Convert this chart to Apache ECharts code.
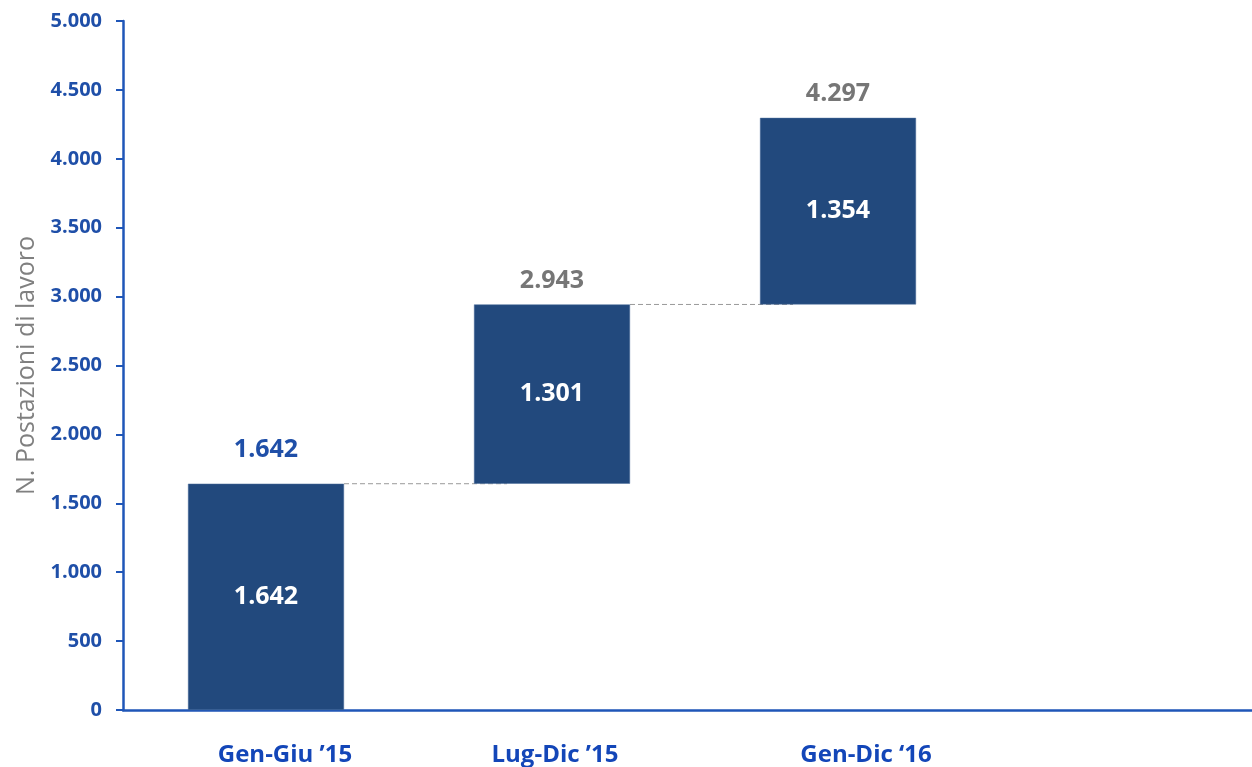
<!DOCTYPE html>
<html>
<head>
<meta charset="utf-8">
<script src="https://cdn.jsdelivr.net/npm/echarts@6/dist/echarts.min.js"></script>
<style>html,body{margin:0;padding:0;background:#fff;overflow:hidden}#c{width:1252px;height:767px}</style>
</head>
<body>
<div id="c"></div>
<script>
const categories = ['Gen-Giu ’15', 'Lug-Dic ’15', 'Gen-Dic ‘16', ''];
const baseValues = [0, 1642, 2943];
const deltaValues = [1642, 1301, 1354];
const totals = [1642, 2943, 4297];
const yTicks = [0, 500, 1000, 1500, 2000, 2500, 3000, 3500, 4000, 4500, 5000];

const fmt = v => {
  const s = String(Math.round(v));
  return s.replace(/\B(?=(\d{3})+(?!\d))/g, '.');
};
const axisBlue = '#1F56B8';
const labelBlue = '#1F4FA8';
const barColor = '#22497D';
const font = 'Open Sans';

const chart = echarts.init(document.getElementById('c'));
chart.setOption({
  animation: false,
  grid: { left: 123, width: 1144, top: 21, bottom: 57, containLabel: false, outerBoundsMode: 'none' },
  xAxis: {
    type: 'category',
    data: categories,
    axisLine: { lineStyle: { color: axisBlue, width: 2.5 } },
    axisTick: { show: false },
    axisLabel: {
      margin: 33,
      interval: 0,
      formatter: (v, i) => v ? '{l' + i + '|' + v + '}' : '',
      rich: {
        l0: { padding: [0, 0, 0, 38], color: '#1346B8', fontSize: 24, fontWeight: 'bold', fontFamily: font },
        l1: { padding: [0, 0, 0, 6], color: '#1346B8', fontSize: 24, fontWeight: 'bold', fontFamily: font },
        l2: { padding: [0, 0, 0, 56], color: '#1346B8', fontSize: 24, fontWeight: 'bold', fontFamily: font }
      }
    }
  },
  yAxis: {
    type: 'value',
    min: 0, max: 5000, interval: 500,
    name: 'N. Postazioni di lavoro',
    nameLocation: 'middle',
    nameGap: 82,
    nameTextStyle: { color: '#808080', fontSize: 25, fontFamily: font },
    axisLine: { show: true, lineStyle: { color: axisBlue, width: 2.5 } },
    axisTick: { show: true, length: 7, lineStyle: { color: axisBlue, width: 2 } },
    splitLine: { show: false },
    axisLabel: {
      margin: 21,
      color: labelBlue, fontSize: 20, fontWeight: 'bold', fontFamily: font,
      formatter: v => yTicks.includes(v) ? fmt(v) : ''
    }
  },
  series: [
    {
      type: 'bar', stack: 'w', barWidth: 156,
      itemStyle: { color: 'transparent' },
      data: baseValues, silent: true
    },
    {
      type: 'bar', stack: 'w', barWidth: 156,
      itemStyle: { color: barColor, borderColor: '#4A6C9A', borderWidth: 0.5 },
      label: {
        show: true, position: 'inside', color: '#fff',
        fontSize: 25, fontWeight: 'bold', fontFamily: font,
        formatter: p => fmt(p.value)
      },
      data: deltaValues
    },
    {
      type: 'scatter', symbolSize: 0,
      itemStyle: { opacity: 1 },
      label: {
        show: true, position: 'top', distance: 22,
        fontSize: 25, fontWeight: 'bold', fontFamily: font,
        formatter: p => fmt(p.value)
      },
      data: totals.map((t, i) => ({ value: t, label: { color: i === 0 ? labelBlue : '#767676', distance: i === 0 ? 21 : 11 } })),
      z: 5
    },
    {
      type: 'custom',
      renderItem: (params, api) => {
        const p = api.coord([api.value(0), api.value(1)]);
        const band = api.size([1, 0])[0];
        const half = 78;
        return {
          type: 'line',
          shape: { x1: p[0] + half, y1: p[1], x2: p[0] + band - half + 33, y2: p[1] },
          style: { stroke: '#999', lineWidth: 1, lineDash: [5, 3] }
        };
      },
      data: [[0, totals[0]], [1, totals[1]]],
      z: 1
    }
  ]
});
</script>
</body>
</html>
